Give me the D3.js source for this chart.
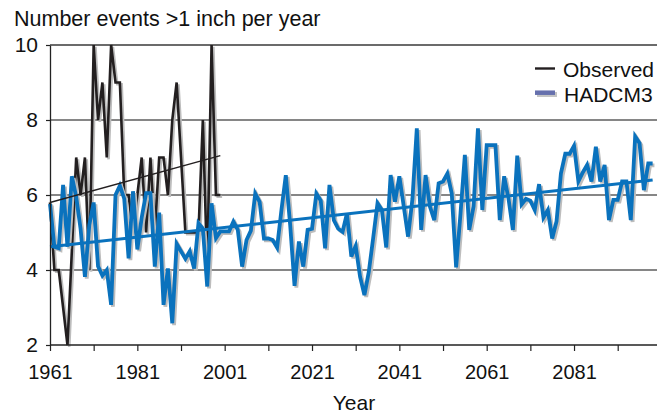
<!DOCTYPE html>
<html>
<head>
<meta charset="utf-8">
<script src="https://cdnjs.cloudflare.com/ajax/libs/d3/7.8.5/d3.min.js"></script>
<style>
  body { margin: 0; background: #fff; }
  svg { display: block; font-family: "Liberation Sans", Arial, Helvetica, sans-serif; }
</style>
</head>
<body>
<svg></svg>
<script>
const firstYear = 1961

// observed counts, 1961-2000
const observed = [5.8, 4, 4, 3, 2, 4.5, 7, 6, 7, 4,
                  10, 8, 9, 7, 10, 9, 9, 6, 6, 5,
                  6, 7, 5, 7, 5, 7, 7, 6, 8, 9,
                  7, 5, 5, 5, 5, 8, 4, 10, 6, 6]

// HADCM3 model, 1961-2099
const hadcm3 = [5.76, 4.62, 4.58, 6.27, 4.62, 6.5, 5.95, 5.1, 3.82, 5.2,
                5.8, 4.1, 3.85, 4.0, 3.07, 6.0, 6.25, 5.9, 4.31, 6.1,
                4.55, 5.4, 6.05, 6.05, 4.09, 5.53, 3.07, 4.04, 2.58, 4.7,
                4.5, 4.3, 4.5, 4.04, 5.25, 5.1, 3.56, 5.78, 4.85, 5.03,
                5.03, 5.03, 5.29, 5.07, 4.09, 4.8, 5.05, 6.04, 5.82, 4.84,
                4.84, 4.8, 4.6, 5.6, 6.53, 5.2, 3.58, 4.76, 4.09, 5.07,
                5.1, 6.04, 5.85, 4.58, 6.27, 5.33, 5.1, 5.02, 5.51, 4.36,
                4.64, 3.82, 3.33, 3.95, 4.85, 5.78, 5.6, 4.6, 6.53, 5.82,
                6.5, 5.7, 4.89, 5.9, 7.78, 5.07, 6.53, 5.69, 5.33, 6.31,
                6.36, 6.57, 6.04, 4.07, 5.5, 7.07, 5.07, 5.7, 7.78, 5.6,
                7.33, 7.33, 7.33, 5.33, 6.5, 5.9, 5.07, 7.05, 5.75, 5.9,
                5.85, 5.6, 6.29, 5.4, 5.6, 4.84, 5.3, 6.58, 7.1, 7.1,
                7.31, 6.36, 6.6, 6.8, 6.36, 7.29, 6.36, 6.8, 5.33, 5.87,
                5.87, 6.36, 6.36, 5.33, 7.56, 7.38, 6.13, 6.84, 6.84]

// linear trend end values [start, end]
const observedTrend = [[1961, 5.8], [2000, 7.05]]
const hadcm3Trend = [[1961, 4.62], [2099, 6.4]]

const xTicks = [1961, 1971, 1981, 1991, 2001, 2011, 2021, 2031, 2041, 2051, 2061, 2071, 2081, 2091]
const xLabels = [1961, 1981, 2001, 2021, 2041, 2061, 2081]
const yTicks = [2, 4, 6, 8, 10]
const gridValues = [4, 6, 8, 10]

const w = 669
const h = 414

let svg = d3.select('svg')
            .attr('width', w)
            .attr('height', h)

let xScale = d3.scaleLinear()
               .domain([1961, 2100])
               .range([50, 657])

let yScale = d3.scaleLinear()
               .domain([2, 10])
               .range([345, 45])

let toPoints = (values) => values.map((v, i) => [firstYear + i, v])

let line = d3.line()
             .x((d) => xScale(d[0]))
             .y((d) => yScale(d[1]))

// gridlines
svg.append('g')
   .selectAll('line')
   .data(gridValues)
   .enter()
   .append('line')
   .attr('x1', xScale(1961))
   .attr('x2', xScale(2100))
   .attr('y1', (d) => yScale(d))
   .attr('y2', (d) => yScale(d))
   .attr('stroke', (d) => d == 10 ? '#3a3a3a' : '#5e5e5e')
   .attr('stroke-width', 1.3)

let drawSeries = (points, color, width) => {
    svg.append('path')
       .datum(points)
       .attr('d', line)
       .attr('transform', 'translate(1.8, 1.8)')
       .attr('fill', 'none')
       .attr('stroke', '#bdbdbd')
       .attr('stroke-width', width)
       .attr('stroke-linejoin', 'miter')
    svg.append('path')
       .datum(points)
       .attr('d', line)
       .attr('fill', 'none')
       .attr('stroke', color)
       .attr('stroke-width', width)
       .attr('stroke-linejoin', 'miter')
}

drawSeries(toPoints(observed), '#231f20', 2.6)
drawSeries(toPoints(hadcm3), '#0a72bd', 3.8)

svg.append('path')
   .datum(observedTrend)
   .attr('d', line)
   .attr('fill', 'none')
   .attr('stroke', '#231f20')
   .attr('stroke-width', 1.3)

svg.append('path')
   .datum(hadcm3Trend)
   .attr('d', line)
   .attr('fill', 'none')
   .attr('stroke', '#0a72bd')
   .attr('stroke-width', 3)

// axes
let xAxis = d3.axisBottom(xScale)
              .tickValues(xTicks)
              .tickFormat((d) => xLabels.includes(d) ? d : '')
              .tickSize(6)
              .tickSizeOuter(0)
              .tickPadding(14)

let gx = svg.append('g')
            .attr('transform', 'translate(0, ' + yScale(2) + ')')
            .call(xAxis)
gx.select('.domain')
  .attr('d', 'M' + xScale(1961) + ',0H' + xScale(2100))
gx.selectAll('line').attr('stroke', '#222').attr('stroke-width', 1.2)
gx.select('.domain').attr('stroke', '#222').attr('stroke-width', 1.3)
gx.selectAll('text')
  .style('font-size', '20px')
  .attr('fill', '#111')

let yAxis = d3.axisLeft(yScale)
              .tickValues(yTicks)
              .tickSize(4)
              .tickSizeOuter(0)
              .tickPadding(8)

let gy = svg.append('g')
            .attr('transform', 'translate(' + xScale(1961) + ', 0)')
            .call(yAxis)
gy.selectAll('line').attr('stroke', '#222').attr('stroke-width', 1.2)
gy.select('.domain').attr('stroke', '#222').attr('stroke-width', 1.3)
gy.selectAll('text')
  .style('font-size', '21px')
  .attr('fill', '#111')

// titles
svg.append('text')
   .attr('x', 14)
   .attr('y', 26)
   .style('font-size', '21.5px')
   .attr('fill', '#111')
   .text('Number events >1 inch per year')

svg.append('text')
   .attr('x', 354)
   .attr('y', 410)
   .attr('text-anchor', 'middle')
   .style('font-size', '21px')
   .attr('fill', '#111')
   .text('Year')

// legend
let legend = svg.append('g')

legend.append('line')
      .attr('x1', 535).attr('x2', 555)
      .attr('y1', 68.5).attr('y2', 68.5)
      .attr('stroke', '#231f20')
      .attr('stroke-width', 2.4)

legend.append('line')
      .attr('x1', 537).attr('x2', 557)
      .attr('y1', 94.5).attr('y2', 94.5)
      .attr('stroke', '#c4c4c4')
      .attr('stroke-width', 5)

legend.append('line')
      .attr('x1', 535).attr('x2', 555)
      .attr('y1', 92.7).attr('y2', 92.7)
      .attr('stroke', '#6670ad')
      .attr('stroke-width', 4.5)

legend.append('text')
      .attr('x', 563)
      .attr('y', 76.7)
      .style('font-size', '21px')
      .attr('fill', '#111')
      .text('Observed')

legend.append('text')
      .attr('x', 564)
      .attr('y', 101.7)
      .style('font-size', '21px')
      .attr('fill', '#111')
      .text('HADCM3')
</script>
</body>
</html>
